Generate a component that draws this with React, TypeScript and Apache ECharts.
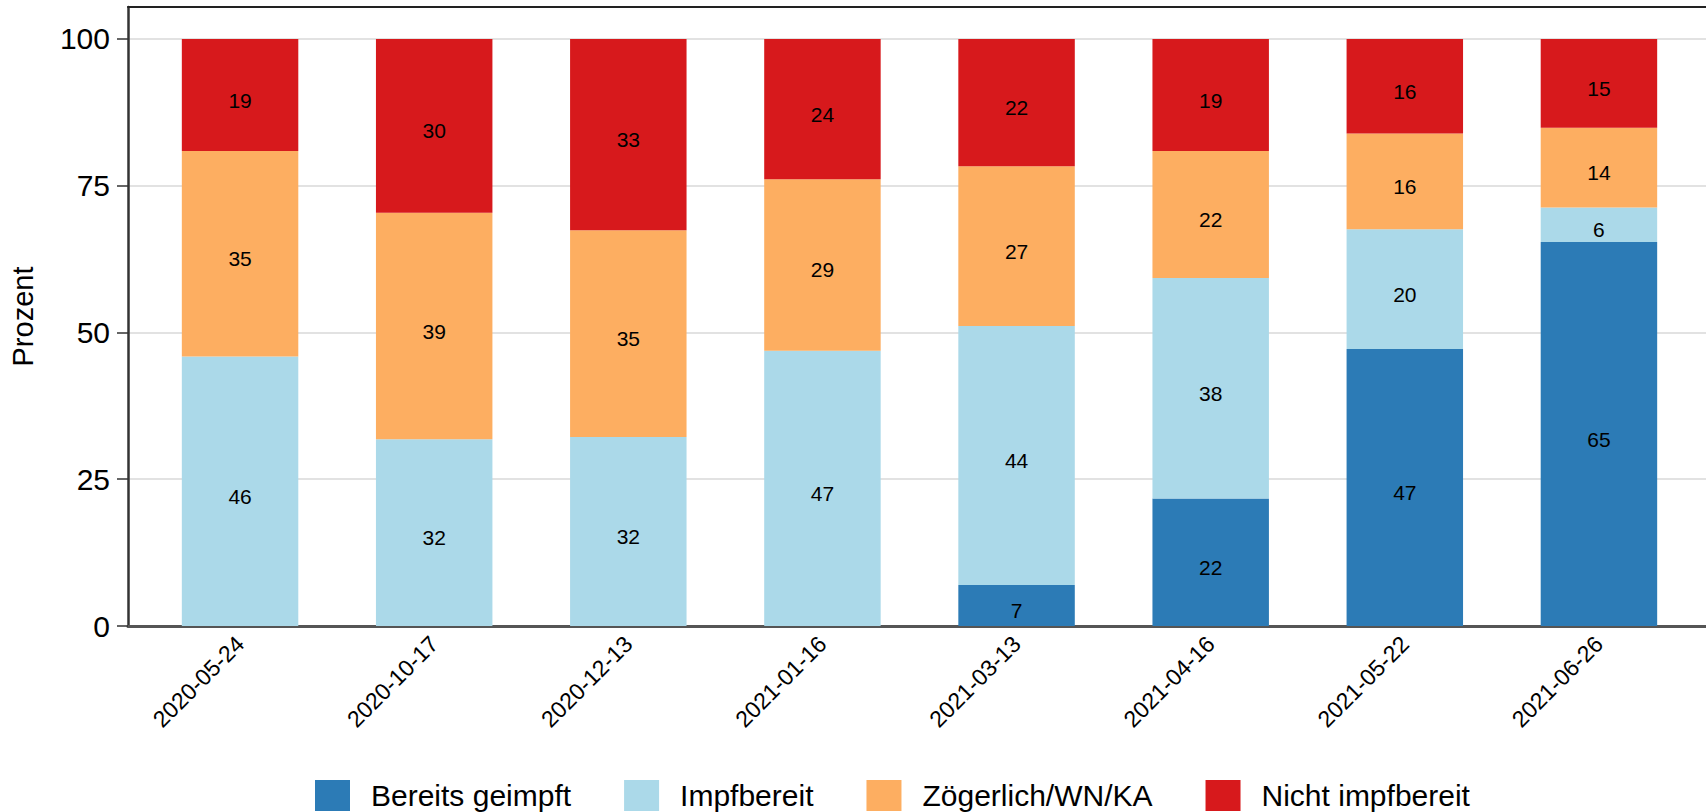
import React, { useEffect, useRef } from "react";
import * as echarts from "echarts";

const categories = [
  "2020-05-24",
  "2020-10-17",
  "2020-12-13",
  "2021-01-16",
  "2021-03-13",
  "2021-04-16",
  "2021-05-22",
  "2021-06-26",
];

const seriesNames = ["Bereits geimpft", "Impfbereit", "Zögerlich/WN/KA", "Nicht impfbereit"];

const bereitsGeimpft = [0, 0, 0, 0, 7.0, 21.7, 47.2, 65.4];
const impfbereit = [45.9, 31.8, 32.2, 46.9, 44.1, 37.6, 20.4, 5.9];
const zoegerlich = [35.0, 38.6, 35.2, 29.2, 27.2, 21.6, 16.3, 13.6];
const nichtImpfbereit = [19.1, 29.6, 32.6, 23.9, 21.7, 19.1, 16.1, 15.1];

const yTicks = [0, 25, 50, 75, 100];
const yMax = 105.45;

const colors = ["#2c7bb6", "#abd9e9", "#fdae61", "#d7191c"];

export default function App() {
  const ref = useRef<HTMLDivElement>(null);

  useEffect(() => {
    if (!ref.current) return;
    const chart = echarts.init(ref.current, undefined, { renderer: "svg" });
    const values = [bereitsGeimpft, impfbereit, zoegerlich, nichtImpfbereit];
    const font = "'Liberation Sans', Arial, Helvetica, sans-serif";

    chart.setOption({
      animation: false,
      textStyle: { fontFamily: font },
      color: colors,
      legend: {
        data: seriesNames,
        icon: "rect",
        itemWidth: 35,
        itemHeight: 31,
        itemGap: 53,
        left: 310,
        top: 775,
        textStyle: { fontSize: 30, color: "#000", padding: [0, 0, 0, 16], fontFamily: font },
      },
      grid: [
        { left: 143, right: 10, top: 7, bottom: 186 },
        { left: 126, right: 0, top: 7, bottom: 186 },
      ],
      xAxis: [
        {
          type: "category",
          gridIndex: 0,
          data: categories,
          axisLine: { show: false },
          axisTick: { show: false },
          axisLabel: {
            rotate: 45,
            fontSize: 23,
            color: "#000",
            margin: 14,
            padding: [31, 0, 0, 0],
            fontFamily: font,
          },
        },
        {
          type: "value",
          gridIndex: 1,
          min: 0,
          max: 1,
          position: "bottom",
          axisLine: { show: true, lineStyle: { color: "#555", width: 3 } },
          axisTick: { show: false },
          axisLabel: { show: false },
          splitLine: { show: false },
        },
        {
          type: "value",
          gridIndex: 1,
          min: 0,
          max: 1,
          position: "top",
          axisLine: { show: true, lineStyle: { color: "#222", width: 2 } },
          axisTick: { show: false },
          axisLabel: { show: false },
          splitLine: { show: false },
        },
      ],
      yAxis: [
        {
          type: "value",
          gridIndex: 0,
          min: 0,
          max: yMax,
          axisLine: { show: false },
          axisTick: { show: false },
          axisLabel: { show: false },
          splitLine: { show: false },
        },
        {
          type: "value",
          gridIndex: 1,
          min: 0,
          max: yMax,
          interval: 25,
          name: "Prozent",
          nameLocation: "middle",
          nameGap: 91,
          nameTextStyle: { fontSize: 29, color: "#000", fontFamily: font },
          axisLine: { show: true, lineStyle: { color: "#333", width: 2.5 } },
          axisTick: { show: true, length: 11, customValues: yTicks, lineStyle: { color: "#333", width: 1.5 } },
          axisLabel: { fontSize: 30, color: "#000", margin: 18, customValues: yTicks, fontFamily: font },
          splitLine: { show: true, lineStyle: { color: "#e2e2e2", width: 2 } },
        },
      ],
      series: seriesNames.map((name, i) => ({
        name,
        type: "bar",
        stack: "total",
        xAxisIndex: 0,
        yAxisIndex: 0,
        barWidth: "60%",
        data: values[i],
        itemStyle: { color: colors[i] },
        label: {
          show: true,
          position: "inside",
          offset: [0, 5],
          fontSize: 21,
          color: "#000",
          fontFamily: font,
          formatter: (p: any) => (p.value > 0 ? String(Math.round(p.value)) : ""),
        },
      })),
    });

    return () => chart.dispose();
  }, []);

  return (
    <div
      ref={ref}
      style={{ position: "absolute", left: 0, top: 0, width: 1706, height: 812, background: "#fff" }}
    />
  );
}
